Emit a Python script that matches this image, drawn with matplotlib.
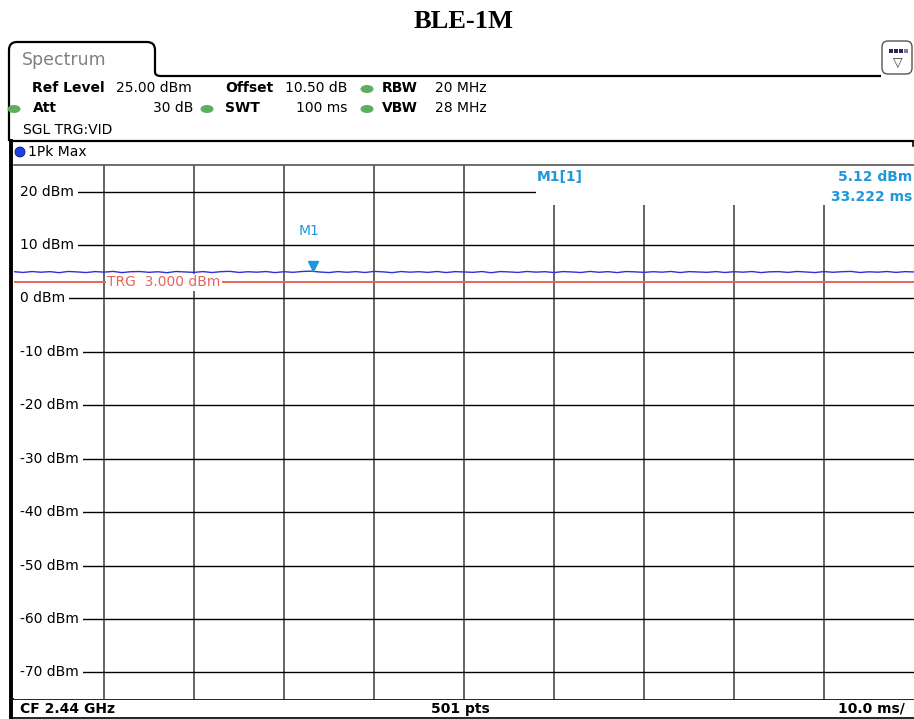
import matplotlib.pyplot as plt
from matplotlib.patches import Rectangle, Ellipse, PathPatch, FancyBboxPatch
from matplotlib.path import Path

# analyzer settings / data
ref_level = 25.0
db_range = 100.0
sweep_ms = 100.0
time_div = [10, 20, 30, 40, 50, 60, 70, 80, 90]
level_ticks = [20, 10, 0, -10, -20, -30, -40, -50, -60, -70]
level_labels = ['20 dBm', '10 dBm', '0 dBm', '-10 dBm', '-20 dBm',
                '-30 dBm', '-40 dBm', '-50 dBm', '-60 dBm', '-70 dBm']
trace_ms = list(range(0, 101))
trace_dbm = [5.02, 4.88, 5.05, 4.92, 5.03, 4.84, 5.06, 4.98, 4.86, 5.04,
             4.94, 5.07, 4.85, 5.02, 5.05, 4.90, 5.01, 4.83, 5.06, 4.97,
             4.89, 5.04, 4.86, 5.03, 5.08, 4.88, 5.01, 4.93, 5.05, 4.85,
             5.02, 4.90, 5.06, 5.12, 4.96, 4.86, 5.04, 4.91, 5.03, 4.87,
             5.07, 4.99, 4.84, 5.05, 4.93, 5.02, 4.89, 5.06, 4.86, 5.03,
             4.97, 4.90, 5.05, 4.83, 5.04, 4.98, 4.88, 5.06, 4.94, 5.02,
             4.86, 5.04, 4.97, 4.87, 5.07, 4.91, 5.03, 4.85, 5.05, 4.99,
             4.89, 5.02, 4.93, 5.06, 4.86, 5.03, 4.97, 4.90, 5.04, 4.87,
             5.02, 4.93, 5.05, 4.85, 5.00, 5.03, 4.89, 5.06, 4.96, 4.86,
             5.04, 4.91, 5.02, 5.07, 4.87, 5.00, 4.93, 5.05, 4.89, 5.03,
             4.97]
trg_dbm = 3.0
marker_ms = 33.222
marker_dbm = 5.12

W, H = 914, 719
fig = plt.figure(figsize=(W / 100, H / 100), dpi=100)
fig.patch.set_facecolor('white')

# background axes in pixel coordinates for the instrument frame
bg = fig.add_axes([0, 0, 1, 1])
bg.set_xlim(0, W)
bg.set_ylim(H, 0)
bg.axis('off')

fs = 10
mono = 'DejaVu Sans'

bg.text(464, 22, 'BLE-1M', ha='center', va='center', fontsize=19,
        fontweight='bold', family='Liberation Serif')

# tab outline "Spectrum"
tab = Path([(9, 141), (9, 50), (9, 42), (17, 42), (147, 42), (155, 42),
            (155, 50), (155, 72), (155, 76), (161, 76), (881, 76)],
           [Path.MOVETO, Path.LINETO, Path.CURVE3, Path.CURVE3, Path.LINETO,
            Path.CURVE3, Path.CURVE3, Path.LINETO, Path.CURVE3, Path.CURVE3,
            Path.LINETO])
bg.add_patch(PathPatch(tab, facecolor='none', edgecolor='black', lw=1.6))
bg.text(22, 60, 'Spectrum', fontsize=12.5, color='#808080', va='center',
        family=mono)

# icon top right
bg.add_patch(FancyBboxPatch((882, 41), 30, 33,
                            boxstyle='round,pad=0,rounding_size=6',
                            facecolor='white', edgecolor='#555', lw=1))
for i in range(3):
    bg.add_patch(Rectangle((889 + i * 5, 49), 4, 4, facecolor='#2a2a5a',
                           edgecolor='none'))
bg.add_patch(Rectangle((904, 49), 4, 4, facecolor='#8080a0',
                       edgecolor='none'))
bg.text(898, 63, '\u25bd', fontsize=9, ha='center', va='center',
        color='#333')

# settings rows
green = '#5fae5f'
bold_items = [(32, 88, 'Ref Level'), (225, 88, 'Offset'), (382, 88, 'RBW'),
              (33, 108, 'Att'), (225, 108, 'SWT'), (382, 108, 'VBW')]
for x, y, s in bold_items:
    bg.text(x, y, s, fontsize=fs, fontweight='bold', va='center',
            family=mono)
plain_items = [(116, 88, '25.00 dBm', 'left'), (285, 88, '10.50 dB', 'left'),
               (435, 88, '20 MHz', 'left'), (193, 108, '30 dB', 'right'),
               (347, 108, '100 ms', 'right'), (435, 108, '28 MHz', 'left')]
for x, y, s, ha in plain_items:
    bg.text(x, y, s, fontsize=fs, va='center', ha=ha, family=mono)
for x, y in [(367, 89), (14, 109), (207, 109), (367, 109)]:
    bg.add_patch(Ellipse((x, y), 13, 8, facecolor=green, edgecolor='none'))
bg.text(23, 130, 'SGL TRG:VID', fontsize=fs, va='center', family=mono)

# trace window frame
bg.plot([10, 913], [141, 141], color='black', lw=1.6)
bg.plot([11, 11], [141, 718], color='black', lw=2.8)
bg.plot([913, 913], [141, 146], color='black', lw=1.2)
bg.add_patch(Ellipse((20, 152), 10, 10, facecolor='#1f3fe0',
                     edgecolor='#0a1a80', lw=0.6))
bg.text(28, 152, '1Pk Max', fontsize=fs, va='center', family=mono)

# footer
bg.plot([13, 914], [699, 699], color='black', lw=1.2)
bg.plot([13, 914], [717.5, 717.5], color='black', lw=1.2)
bg.text(20, 709, 'CF 2.44 GHz', fontsize=fs, va='center', family=mono,
        fontweight='bold')
bg.text(460, 709, '501 pts', fontsize=fs, va='center', ha='center',
        family=mono, fontweight='bold')
bg.text(905, 709, '10.0 ms/', fontsize=fs, va='center', ha='right',
        family=mono, fontweight='bold')

# data axes: 0..100 ms, -75..25 dBm
top_px, bot_px = 165, 699
ax = fig.add_axes([14 / W, 1 - bot_px / H, 900 / W, (bot_px - top_px) / H])
ax.set_xlim(0, sweep_ms)
ax.set_ylim(ref_level - db_range, ref_level)
ax.set_xticks([])
ax.set_yticks([])
for side in ['left', 'right', 'bottom']:
    ax.spines[side].set_visible(False)
ax.spines['top'].set_color('#555')
ax.spines['top'].set_linewidth(1.2)

ax.vlines(time_div, ref_level - db_range, ref_level, colors='#4a4a4a',
          lw=1.2, zorder=1)
ax.hlines(level_ticks, 0, sweep_ms, colors='black', lw=1.0, zorder=1)

# marker info box hides grid in the corner
px_ms = sweep_ms / 900
px_db = db_range / (bot_px - top_px)
ax.add_patch(Rectangle((522 * px_ms, ref_level - 40 * px_db),
                       sweep_ms, 45 * px_db, facecolor='white',
                       edgecolor='none', zorder=2))
# blank strip left of the level labels
ax.add_patch(Rectangle((0, ref_level - db_range), 6 * px_ms, db_range,
                       facecolor='white', edgecolor='none', zorder=2))

for lv, lab in zip(level_ticks, level_labels):
    ax.text(6 * px_ms, lv, lab, fontsize=fs, va='center', ha='left',
            family=mono, zorder=4,
            bbox=dict(facecolor='white', edgecolor='none', pad=3))

ax.axhline(trg_dbm, color='#e8645a', lw=1.4, zorder=3)
ax.text(93 * px_ms, trg_dbm, 'TRG  3.000 dBm', color='#e8645a',
        fontsize=fs, va='center', ha='left', family=mono, zorder=4,
        bbox=dict(facecolor='white', edgecolor='none', pad=1.0))

ax.plot(trace_ms, trace_dbm, color='#3030d8', lw=1.0, zorder=5)

cyan = '#1e98d8'
ax.plot([marker_ms], [marker_dbm + 0.9], marker='v', color=cyan,
        markersize=7, zorder=6)
ax.text(marker_ms - 0.4, marker_dbm + 7.5, 'M1', color=cyan, fontsize=fs,
        ha='center', va='center', family=mono, zorder=6)

ax.text(523 * px_ms, ref_level - 12 * px_db, 'M1[1]', color=cyan,
        fontsize=fs, fontweight='bold', va='center', family=mono, zorder=6)
ax.text(898 * px_ms, ref_level - 12 * px_db, '5.12 dBm', color=cyan,
        fontsize=fs, fontweight='bold', va='center', ha='right',
        family=mono, zorder=6)
ax.text(898 * px_ms, ref_level - 32 * px_db, '33.222 ms', color=cyan,
        fontsize=fs, fontweight='bold', va='center', ha='right',
        family=mono, zorder=6)

fig.savefig('out.png', dpi=100)
